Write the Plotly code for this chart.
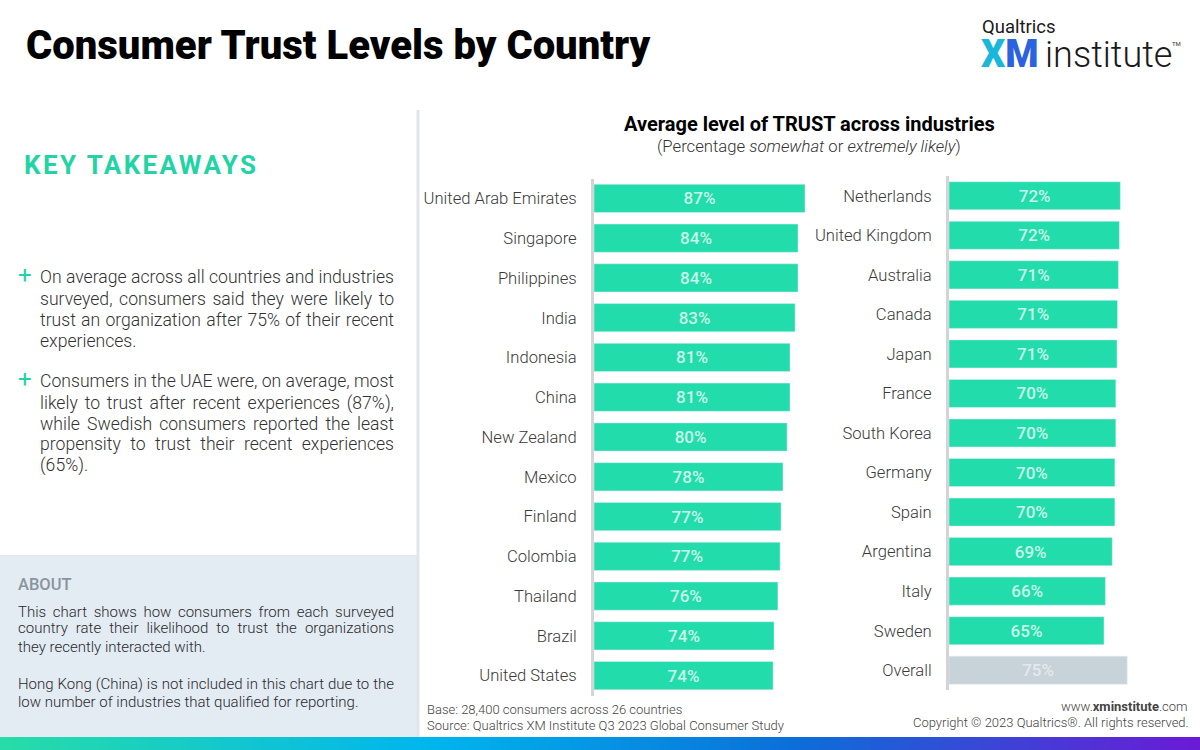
import json
import plotly.graph_objects as go

left_countries = ["United Arab Emirates", "Singapore", "Philippines", "India", "Indonesia", "China",
                  "New Zealand", "Mexico", "Finland", "Colombia", "Thailand", "Brazil", "United States"]
left_values = [87, 84, 84, 83, 81, 81, 80, 78, 77, 77, 76, 74, 74]
left_bars = [87.2, 84.3, 84.3, 83.1, 81.0, 81.0, 79.8, 78.1, 77.3, 76.9, 76.0, 74.4, 74.0]

right_countries = ["Netherlands", "United Kingdom", "Australia", "Canada", "Japan", "France",
                   "South Korea", "Germany", "Spain", "Argentina", "Italy", "Sweden", "Overall"]
right_values = [72, 72, 71, 71, 71, 70, 70, 70, 70, 69, 66, 65, 75]
right_bars = [72.3, 71.9, 71.5, 71.1, 70.9, 70.4, 70.4, 70.0, 70.0, 68.9, 66.0, 65.4, 75.2]

GREEN = "#22dcab"
GREY = "#c8d2d9"
PALE = "#c9f7ea"
FONT = "Roboto"
W, H = 1200, 750

def px(x):
    return x / W

def py(y):
    return 1 - y / H

right_colors = [GREEN] * 12 + [GREY]
right_text_colors = [PALE] * 12 + ["#e4e9ec"]

fig = go.Figure()
fig.add_trace(go.Bar(y=left_countries, x=left_bars, orientation="h", marker_color=GREEN, width=0.71,
                     text=[f"{v}%" for v in left_values], textposition="inside", insidetextanchor="middle",
                     textangle=0, textfont=dict(family=FONT, size=17, color=PALE, weight=500),
                     xaxis="x", yaxis="y", hoverinfo="skip"))
fig.add_trace(go.Bar(y=right_countries, x=right_bars, orientation="h", marker_color=right_colors, width=0.71,
                     text=[f"{v}%" for v in right_values], textposition="inside", insidetextanchor="middle",
                     textangle=0, textfont=dict(family=FONT, size=17, color=right_text_colors, weight=500),
                     xaxis="x2", yaxis="y2", hoverinfo="skip"))

# gradient strip along the bottom
fig.add_trace(go.Heatmap(z=[list(range(120))], showscale=False, xaxis="x3", yaxis="y3", hoverinfo="skip",
                         colorscale=[[0, "#27dca8"], [0.36, "#00b5ee"], [0.66, "#0b6fd8"], [1, "#6a1bd6"]]))

def cat_axis(domain, anchor):
    return dict(domain=domain, anchor=anchor, autorange="reversed", showgrid=False, zeroline=False,
                showline=True, linecolor="#d2d4d6", linewidth=3, ticks="outside", ticklen=11,
                tickcolor="rgba(0,0,0,0)", tickfont=dict(family=FONT, size=16.6, color="#3a3a3a", weight=300))

def val_axis(domain, anchor, span):
    return dict(domain=domain, anchor=anchor, range=[0, span], visible=False, fixedrange=True)

fig.update_layout(
    width=W, height=H, autosize=False, showlegend=False, bargap=0.29,
    margin=dict(l=0, r=0, t=0, b=0), paper_bgcolor="white", plot_bgcolor="rgba(0,0,0,0)",
    xaxis=val_axis([px(594), px(836)], "y", 100),
    yaxis=cat_axis([py(695.5), py(178.5)], "x"),
    xaxis2=val_axis([px(949), px(1186)], "y2", 100),
    yaxis2=cat_axis([py(690), py(176)], "x2"),
    xaxis3=dict(domain=[0, 1], anchor="y3", visible=False),
    yaxis3=dict(domain=[0, py(737)], anchor="x3", visible=False),
)

# left panel backgrounds
fig.add_shape(type="rect", xref="paper", yref="paper", x0=0, x1=px(417), y0=py(737), y1=py(555),
              fillcolor="#e3ebf3", line_width=0, layer="below")
fig.add_shape(type="line", xref="paper", yref="paper", x0=px(418), x1=px(418), y0=py(737), y1=py(110),
              line=dict(color="#e1e5e9", width=3), layer="below")

def label(x, y, text, size, color="#333333", anchor="left", weight=300, family=FONT):
    fig.add_annotation(xref="paper", yref="paper", x=px(x), y=py(y), text=text, showarrow=False,
                       xanchor=anchor, yanchor="middle", align=anchor, borderpad=0,
                       font=dict(family=family, size=size, color=color, weight=weight))

label(24.5, 45, "Consumer Trust Levels by Country", 40, "#000000", weight=900)
label(23, 165, "KEY TAKEAWAYS", 26, "#22d3a5", weight=700)

label(981, 27, "Qualtrics", 18.5, "#1a1a1a", weight=400)
label(980, 54, "<span style='color:#18b8dc'>X</span><span style='color:#2a62e0'>M</span>", 38, weight=900)
label(1044, 55, "institute", 36, "#1a1a1a", weight=300)
label(1171, 44, "TM", 6, "#333333", weight=400)

label(809, 124, "Average level of TRUST across industries", 20, "#000000", anchor="center", weight=700)
label(809, 146, "(Percentage <i>somewhat</i> or <i>extremely likely</i>)", 16.7, "#333333", anchor="center")

label(17, 275, "+", 24, "#22d3a5", weight=400)
label(17, 379, "+", 24, "#22d3a5", weight=400)

bullet_lines = [(277, "On average across all countries and industries"),
                (299, "surveyed, consumers said they were likely to"),
                (320, "trust an organization after 75% of their recent"),
                (341, "experiences."),
                (381, "Consumers in the UAE were, on average, most"),
                (403, "likely to trust after recent experiences (87%),"),
                (424, "while Swedish consumers reported the least"),
                (444, "propensity to trust their recent experiences"),
                (466, "(65%).")]
for y, line in bullet_lines:
    label(39, y, line, 17.6)

label(17, 584, "ABOUT", 16.5, "#8a949c", weight=500)
about_lines = [(612, "This chart shows how consumers from each surveyed"),
               (628, "country rate their likelihood to trust the organizations"),
               (647, "they recently interacted with."),
               (684, "Hong Kong (China) is not included in this chart due to the"),
               (702, "low number of industries that qualified for reporting.")]
for y, line in about_lines:
    label(17, y, line, 15, "#2a2a2a")

label(426, 709, "Base: 28,400 consumers across 26 countries", 13, "#444444")
label(426, 725, "Source: Qualtrics XM Institute Q3 2023 Global Consumer Study", 13, "#444444")
label(1189, 706, "www.<b>xminstitute</b>.com", 13, "#444444", anchor="right")
label(1189.5, 722, "Copyright © 2023 Qualtrics®. All rights reserved.", 13, "#444444", anchor="right")

# justified lines: text -> pixel width of the column
justified = {}
for i in [0, 1, 2, 4, 5, 6, 7]:
    justified[bullet_lines[i][1]] = 354
for i in [0, 1, 3]:
    justified[about_lines[i][1]] = 376

post = """
document.body.style.margin = '0';
var justified = %s;
document.querySelectorAll('.annotation-text').forEach(function (el) {
  var t = el.textContent;
  if (t === 'KEY TAKEAWAYS') { el.style.letterSpacing = '2.4px'; }
  if (justified[t]) {
    var extra = (justified[t] - el.getComputedTextLength()) / (t.split(' ').length - 1);
    el.style.wordSpacing = extra + 'px';
  }
});
""" % json.dumps(justified)

fig.write_html("out.html", post_script=post, config={"displayModeBar": False})
